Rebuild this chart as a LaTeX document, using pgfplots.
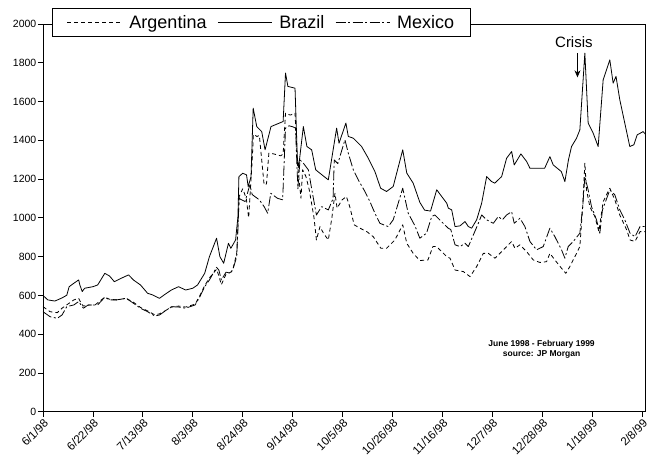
\documentclass[border=0pt]{standalone}
\usepackage{fontspec}
\setmainfont{Liberation Sans}
\usepackage{pgfplots}
\pgfplotsset{compat=1.18}
\usetikzlibrary{arrows.meta}
\begin{document}
\begin{tikzpicture}
\begin{axis}[
  scale only axis, width=602pt, height=387.75pt,
  xmin=0, xmax=253.2, ymin=0, ymax=2000,
  xtick={0,21,...,252},
  xticklabels={6/1/98,6/22/98,7/13/98,8/3/98,8/24/98,9/14/98,10/5/98,10/26/98,11/16/98,12/7/98,12/28/98,1/18/99,2/8/99},
  ytick={0,200,...,2000},
  tick align=outside, tick pos=left, major tick length=5pt,
  tick style={black, line width=0.8pt},
  axis line style={line width=0.9pt},
  /pgf/number format/assume math mode=true,
  /pgf/number format/1000 sep={},
  yticklabel style={font=\fontsize{10.5}{12}\selectfont, inner sep=1.5pt},
  xticklabel style={font=\fontsize{11.5}{12}\selectfont, rotate=45, anchor=north east, inner sep=1pt},
  legend style={at={(rel axis cs:0.015,1.004)}, anchor=west, legend columns=3, draw=black, line width=1.3pt, fill=white,
    font=\fontsize{18}{20}\selectfont, inner xsep=14pt, inner ysep=5pt,
    /tikz/every even column/.append style={column sep=9pt}},
  legend image code/.code={\draw[line width=0.8pt,#1] (0pt,0pt) -- (54pt,0pt);},
]
\addplot[black, line width=0.8pt, mark=none, line join=round, dash pattern=on 4pt off 3pt] table {
0 542
3 516
6 511
8 534
11 560
13 577
15 585
16 560
17 545
19 550
22 552
26 591
28 580
31 577
35 585
38 565
41 538
44 520
47 500
49 505
52 525
54 540
57 545
60 540
64 555
66 600
68 650
70 690
73 735
74 700
75 655
77 710
79 720
80 740
81.5 820
82.5 1110
84 1150
85.5 1100
86.5 1000
88 1300
88.5 1430
90 1420
91 1425
93 1170
94 1175
95 1334
97 1330
100 1320
101 1330
102 1540
104 1530
106 1540
107 1282
108.5 1101
109.2 1248
110.6 1213
112 1144
114 1000
115 886
116.5 955
118 920
120 886
121.5 1000
122.8 1127
123.7 1050
125.8 1093
127.6 1110
129 1058
130.9 964
133.3 947
136.2 929
138.9 903
142.1 843
144.5 843
148 886
151.3 964
153 869
155.7 817
158.5 780
161.9 783
164 852
165.5 852
167.7 826
169.8 800
171.2 792
173.3 731
176.8 723
179.6 697
182.4 749
185.2 817
187.3 817
190.1 792
192.9 826
197.1 878
198.5 843
200.6 861
203.4 826
206.2 783
209 770
211.8 774
213.2 817
215.3 783
218.1 740
219.9 714
221.6 749
224.4 817
225.8 852
227 1058
227.9 1282
228.6 1144
230 1058
232.1 1007
233.8 929
235.6 1084
238.4 1153
240.5 1093
242.6 1015
245.5 938
246.9 886
249 878
251.1 929
253.5 929
};
\addlegendentry{\hspace{6pt}Argentina}
\addplot[black, line width=0.8pt, mark=none, line join=round] table {
0 600
2 577
5 571
8 587
10 601
11 645
13 663
15 680
15.5 654
16.5 620
17.5 637
21 645
23 654
26 714
28 700
30 671
33 689
36 706
38 680
41 654
44 611
46 603
49 585
51 603
54 628
57 645
60 628
63 637
65 654
68 714
70 800
73 895
74.4 800
76 766
78 869
79 843
81 886
82 1007
82.4 1213
84 1230
85.6 1222
86.3 1161
87.5 1213
88.4 1566
89.9 1471
92 1445
93.4 1351
95.9 1471
101 1497
102 1747
103 1678
106 1669
107 1300
107.5 1260
109.5 1471
111 1368
113 1351
114.7 1248
116.5 1230
120 1196
123.5 1463
124.5 1385
127.4 1489
128.4 1420
130.5 1411
134 1368
136.8 1308
139.6 1239
142 1153
144.5 1136
147.3 1162
151.3 1351
153 1231
155.7 1179
158.5 1080
160.5 1040
163 1035
165.6 1145
167.7 1110
169.8 1076
170.5 1050
171.9 1041
173.3 955
175.4 959
177.5 981
178.9 955
180.3 947
182.4 990
184.5 1076
186.6 1213
188.7 1187
190 1179
192.9 1213
195 1308
197.1 1342
198.2 1273
201 1330
203.4 1291
204.8 1256
207.6 1256
211 1256
213.2 1316
214.6 1273
218 1239
219.5 1187
221 1299
222.3 1368
224.4 1411
225.8 1454
227.9 1850
229.3 1489
231.4 1437
233.5 1368
235.6 1712
238.4 1815
239.8 1695
241 1730
242.6 1609
246.8 1368
248.5 1377
249.9 1428
252.4 1445
253.5 1430
};
\addlegendentry{\hspace{5pt}Brazil}
\addplot[black, line width=0.8pt, mark=none, line join=round, dash pattern=on 10pt off 2.5pt on 2pt off 2.5pt] table {
0 516
3 490
6 482
8 499
10 542
13 551
14 560
15 568
17 534
19 551
23 551
26 591
28 577
31 577
35 585
38 560
41 534
44 516
47 494
49 499
52 525
54 542
57 540
60 534
64 551
66 594
68 645
70 680
73 745
74 730
75 680
77 720
79 714
80 740
81.5 800
82.5 1100
85 1084
87 1170
88 1120
91 1093
93 1058
94.5 1024
95.8 1127
98.6 1101
100.8 1093
102 1463
103.5 1475
105 1470
106.2 1463
107.2 1150
108.1 1299
109.5 1282
111.6 1248
113 1150
115 1015
117.2 1058
120 1041
122 1100
122.5 1299
124 1280
127 1403
128.4 1334
130.5 1248
132.6 1196
135.4 1136
137.5 1084
139.6 1024
141.7 972
145.2 955
147.3 990
151.3 1153
153.6 1024
156.4 960
158.5 895
161.3 921
163.5 1007
164.8 1015
166.2 998
168.3 972
170.4 947
171.5 940
173.3 861
175.4 852
177.5 869
178.9 852
181 912
183.1 972
184.5 1015
186.6 990
189.4 972
191.5 1007
193.2 990
195 1015
197.1 1032
198.2 972
200.6 998
202.7 955
204.8 878
207.6 835
210.4 852
213.2 947
215.3 903
218.1 835
219.5 792
220.9 852
223 878
225.8 921
227 1058
227.9 1213
229.3 1144
230.7 1058
232.8 990
234.2 921
235.3 1041
238.4 1144
240.5 1119
242.6 1041
244.7 990
246.9 921
249 903
251.1 955
253.5 955
};
\addlegendentry{\hspace{5pt}Mexico}
\node[font=\fontsize{15}{16}\selectfont] at (axis cs:223.3,1908) {Crisis};
\draw[line width=0.8pt, -{Stealth[length=7pt,width=6pt]}] (axis cs:224.8,1850) -- (axis cs:224.8,1725);
\node[font=\bfseries\fontsize{8.5}{10}\selectfont, align=center] at (axis cs:209.7,324) {June 1998 - February 1999\\source: JP Morgan};
\end{axis}
\pgfresetboundingbox
\path (-43pt,-51.25pt) rectangle (610pt,411.75pt);
\end{tikzpicture}
\end{document}
